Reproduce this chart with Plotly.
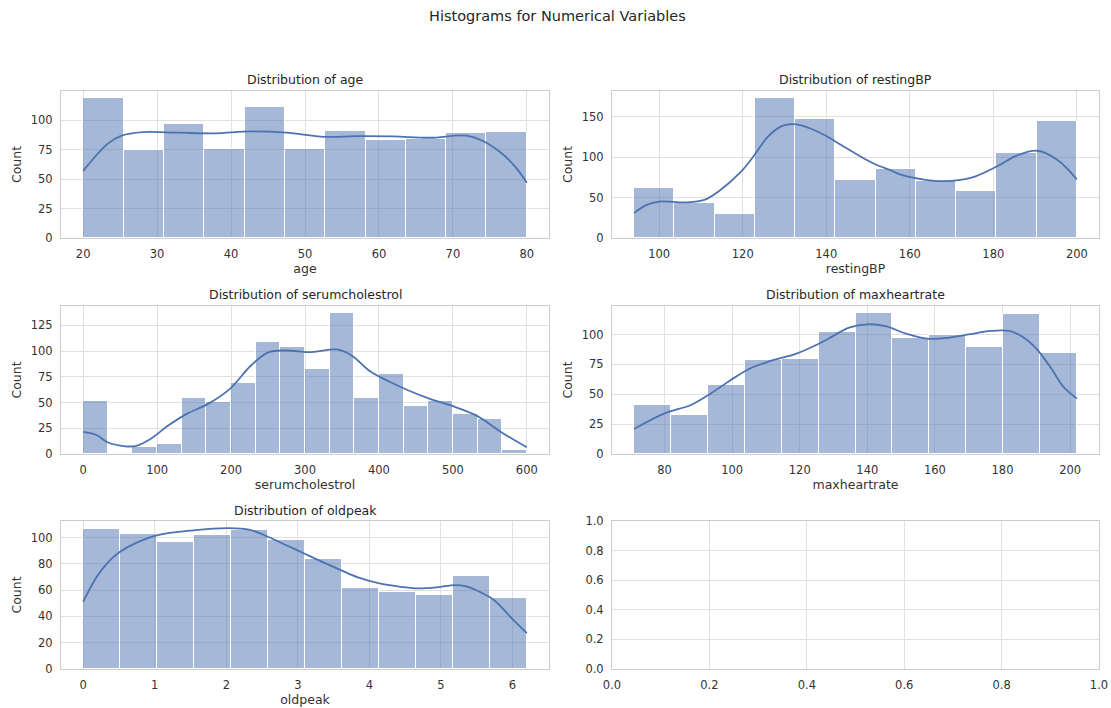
import plotly.graph_objects as go

# ---------------- data ----------------
age_range = [20, 80]
age_counts = [119, 75, 97, 76, 111, 76, 91, 83, 84, 89, 90]
age_kde_x = [20, 23.3, 25.2, 28.1, 33, 37.8, 42.7, 47.5, 52.6, 57.2, 62, 66.9, 71.8, 74.2, 76.6, 78.5, 80]
age_kde_y = [57, 80, 87, 90, 89.5, 89, 90.6, 89.5, 86, 86.6, 86.3, 85.2, 87, 82, 72, 60, 47]

bp_range = [94, 200]
bp_counts = [62, 43, 30, 173, 146.5, 72, 85.5, 70, 58.5, 105.5, 145]
bp_kde_x = [94, 97, 100, 106.5, 110.8, 114.2, 119.6, 122.8, 126, 129.2, 131.6, 134, 137.2, 140, 143.6, 147.6, 151.6, 155.6, 158, 163.4, 168.2, 174.6, 180.9, 185.7, 190.5, 195.3, 200]
bp_kde_y = [31, 41, 45, 44, 47, 57.5, 82, 102.5, 125, 138, 140.6, 139.3, 133.2, 126, 114.8, 102.5, 91.4, 83.2, 78, 72.2, 70.2, 74.3, 88.6, 102, 107.8, 96.7, 72.5]

sc_range = [0, 600]
sc_counts = [52, 0, 6.5, 10, 54, 51, 69, 109, 104, 83, 137, 54, 78, 47, 52, 39, 34, 4]
sc_kde_x = [0, 18, 33, 57, 72, 91, 115, 140, 169, 198, 227, 251, 275, 309, 343, 363, 387, 411, 440, 469, 498, 532, 566, 600]
sc_kde_y = [21.5, 18.5, 11.4, 7.5, 8, 14.6, 27.6, 39, 48.7, 63, 86, 99, 100.6, 99, 101.6, 95.8, 81, 71.4, 61.7, 53.6, 47, 37.3, 21, 6.5]

hr_range = [71, 202]
hr_counts = [40.7, 32.3, 57.7, 78.5, 79.7, 102, 118, 96.7, 100, 89.7, 117, 84.7]
hr_kde_x = [71, 80, 87.8, 93.7, 99.5, 105.3, 111.2, 119, 125.8, 128.6, 134.6, 140, 145.4, 151.4, 158.4, 164.4, 170.4, 176.4, 182, 186, 190, 194.1, 198, 202]
hr_kde_y = [21, 34, 41, 50.7, 61.8, 71.6, 77.7, 84, 92.5, 96.7, 105.8, 108.6, 107, 100.8, 96.4, 97.5, 100.3, 103, 103, 98, 88.3, 73, 56.3, 46.5]

op_range = [0, 6.2]
op_counts = [106.6, 103, 96.7, 101.8, 106, 98, 83.8, 61.6, 58.6, 56.6, 70.7, 53.8]
op_kde_x = [0, 0.19, 0.34, 0.51, 0.74, 1.03, 1.54, 2.03, 2.33, 2.59, 2.84, 3.09, 3.34, 3.6, 3.84, 4.14, 4.44, 4.64, 4.94, 5.19, 5.34, 5.54, 5.74, 5.99, 6.2]
op_kde_y = [51.3, 70.2, 80.8, 89, 96, 101.8, 105.6, 107.3, 106, 100.5, 94.2, 87.9, 81.6, 75.3, 69.7, 65.2, 62.6, 61.4, 62.1, 63.9, 63.1, 58.8, 52.5, 38.6, 27.3]

variables = ["age", "restingBP", "serumcholestrol", "maxheartrate", "oldpeak"]
x_ticks = {
    "age": [20, 30, 40, 50, 60, 70, 80],
    "restingBP": [100, 120, 140, 160, 180, 200],
    "serumcholestrol": [0, 100, 200, 300, 400, 500, 600],
    "maxheartrate": [80, 100, 120, 140, 160, 180, 200],
    "oldpeak": [0, 1, 2, 3, 4, 5, 6],
}
y_ticks = {
    "age": [0, 25, 50, 75, 100, 125],
    "restingBP": [0, 50, 100, 150],
    "serumcholestrol": [0, 25, 50, 75, 100, 125],
    "maxheartrate": [0, 25, 50, 75, 100],
    "oldpeak": [0, 20, 40, 60, 80, 100],
}
empty_ticks = [0.0, 0.2, 0.4, 0.6, 0.8, 1.0]

series = {
    "age": (age_range, age_counts, age_kde_x, age_kde_y),
    "restingBP": (bp_range, bp_counts, bp_kde_x, bp_kde_y),
    "serumcholestrol": (sc_range, sc_counts, sc_kde_x, sc_kde_y),
    "maxheartrate": (hr_range, hr_counts, hr_kde_x, hr_kde_y),
    "oldpeak": (op_range, op_counts, op_kde_x, op_kde_y),
}

# ---------------- layout geometry (page body margin removed below) ----------------
W, H = 1111, 708
cols_px = [(61, 549), (612, 1099)]
rows_px = [(91, 238), (306, 454), (521, 669)]

BAR_COLOR = "rgba(76,114,176,0.5)"
LINE_COLOR = "#4C72B0"
GRID = "#e0e0e0"
EDGE = "#cccccc"
TXT = "#333333"
FONT = "DejaVu Sans"

fig = go.Figure()
layout = dict(
    width=W, height=H,
    margin=dict(l=0, r=0, t=0, b=0, autoexpand=False),
    paper_bgcolor="white", plot_bgcolor="white",
    showlegend=False,
    font=dict(family=FONT, color=TXT, size=11),
    bargap=0,
)
annotations = [dict(text="Histograms for Numerical Variables", x=557 / W, y=1 - 16 / H,
                    xref="paper", yref="paper", showarrow=False,
                    font=dict(size=14.5, color="#262626"), xanchor="center", yanchor="middle")]

for i in range(6):
    r, c = divmod(i, 2)
    x0, x1 = cols_px[c]
    y0, y1 = rows_px[r]
    xd = [x0 / W, x1 / W]
    yd = [1 - y1 / H, 1 - y0 / H]
    ax = "" if i == 0 else str(i + 1)
    xa, ya = "x" + ax, "y" + ax
    common = dict(showgrid=True, gridcolor=GRID, gridwidth=1, zeroline=False,
                  showline=True, linecolor=EDGE, linewidth=1, mirror=True,
                  ticks="", tickfont=dict(size=11.5, color=TXT), automargin=False,
                  ticklabeloverflow="allow")
    if i < 5:
        name = variables[i]
        (lo, hi), counts, kx, ky = series[name]
        n = len(counts)
        w = (hi - lo) / n
        centers = [lo + w * (k + 0.5) for k in range(n)]
        fig.add_trace(go.Bar(x=centers, y=counts, width=[w] * n, xaxis=xa, yaxis=ya,
                             marker=dict(color=BAR_COLOR, line=dict(color="white", width=1))))
        fig.add_trace(go.Scatter(x=kx, y=ky, mode="lines", xaxis=xa, yaxis=ya,
                                 line=dict(color=LINE_COLOR, width=1.8, shape="spline", smoothing=1.0)))
        span = hi - lo
        ymax = max(max(counts), max(ky)) * 1.05
        layout["xaxis" + ax] = dict(domain=xd, anchor=ya, range=[lo - 0.05 * span, hi + 0.05 * span],
                                    tickvals=x_ticks[name], ticklabelstandoff=5,
                                    title=dict(text=name, font=dict(size=12.5, color=TXT), standoff=2),
                                    **common)
        layout["yaxis" + ax] = dict(domain=yd, anchor=xa, range=[0, ymax],
                                    tickvals=y_ticks[name], ticklabelstandoff=5,
                                    title=dict(text="Count", font=dict(size=12.5, color=TXT), standoff=6),
                                    **common)
        annotations.append(dict(text="Distribution of " + name, x=(xd[0] + xd[1]) / 2,
                                y=yd[1], yshift=11, xref="paper", yref="paper", showarrow=False,
                                font=dict(size=12.5, color="#262626"), xanchor="center", yanchor="middle"))
    else:
        fig.add_trace(go.Scatter(x=[None], y=[None], xaxis=xa, yaxis=ya, mode="markers"))
        layout["xaxis" + ax] = dict(domain=xd, anchor=ya, range=[0, 1], tickvals=empty_ticks,
                                    tickformat=".1f", ticklabelstandoff=5, **common)
        layout["yaxis" + ax] = dict(domain=yd, anchor=xa, range=[0, 1], tickvals=empty_ticks,
                                    tickformat=".1f", ticklabelstandoff=5, **common)

layout["annotations"] = annotations
fig.update_layout(**layout)
fig.write_html("out.html", config={"displayModeBar": False},
               post_script="document.body.style.margin='0';document.body.style.padding='0';"
                           "document.documentElement.style.overflow='hidden';")
